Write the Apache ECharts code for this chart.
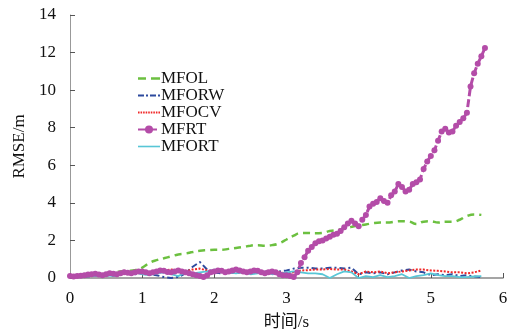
<!DOCTYPE html>
<html>
<head>
<meta charset="utf-8">
<script src="https://cdn.jsdelivr.net/npm/echarts@6/dist/echarts.min.js"></script>
<style>
  html, body { margin: 0; padding: 0; background: #fff; }
  #rmse-chart { width: 523px; height: 336px; }
</style>
</head>
<body>
<div id="rmse-chart"></div>
<script>
// time axis, 0.1 s steps for the low error series
var tCoarse = [];
for (var i = 0; i <= 57; i++) tCoarse.push(+(i * 0.1).toFixed(2));
// time axis, 0.05 s steps for MFRT (markers)
var tFine = [];
for (var j = 0; j <= 115; j++) tFine.push(+(j * 0.05).toFixed(2));

var mfol = [0.1, 0.12, 0.15, 0.2, 0.22, 0.25, 0.3, 0.35, 0.38, 0.42,
    0.55, 0.8, 0.95, 1.05, 1.15, 1.25, 1.3, 1.38, 1.45, 1.48,
    1.5, 1.5, 1.55, 1.6, 1.65, 1.72, 1.75, 1.72, 1.75, 1.85,
    2.05, 2.25, 2.4, 2.4, 2.38, 2.4, 2.5, 2.55, 2.62, 2.72,
    2.8, 2.85, 2.92, 2.95, 2.95, 3.0, 3.02, 3.0, 2.88, 3.0,
    3.02, 2.95, 3.0, 3.0, 3.1, 3.3, 3.38, 3.36];

var mforw = [0.05, 0.05, 0.08, 0.1, 0.12, 0.15, 0.12, 0.2, 0.25, 0.2,
    0.25, 0.2, 0.15, 0.05, 0.0, 0.05, 0.25, 0.6, 0.85, 0.45,
    0.3, 0.25, 0.3, 0.25, 0.3, 0.35, 0.3, 0.35, 0.3, 0.35,
    0.4, 0.5, 0.55, 0.55, 0.5, 0.5, 0.55, 0.55, 0.5, 0.55,
    0.2, 0.3, 0.25, 0.3, 0.2, 0.3, 0.4, 0.45, 0.35, 0.3,
    0.15, 0.2, 0.15, 0.2, 0.1, 0.15, 0.08, 0.05];

var mfocv = [0.1, 0.1, 0.12, 0.15, 0.18, 0.2, 0.22, 0.25, 0.3, 0.3,
    0.35, 0.3, 0.3, 0.4, 0.45, 0.4, 0.35, 0.45, 0.5, 0.4,
    0.35, 0.4, 0.35, 0.3, 0.35, 0.3, 0.35, 0.3, 0.35, 0.3,
    0.25, 0.3, 0.4, 0.42, 0.45, 0.45, 0.48, 0.45, 0.45, 0.35,
    0.2, 0.35, 0.3, 0.35, 0.25, 0.3, 0.35, 0.4, 0.45, 0.45,
    0.4, 0.38, 0.35, 0.3, 0.3, 0.25, 0.3, 0.4];

var mfrt = [0.1, 0.08, 0.1, 0.12, 0.15, 0.18, 0.2, 0.22, 0.18, 0.15,
    0.2, 0.25, 0.22, 0.2, 0.25, 0.3, 0.28, 0.25, 0.3, 0.35,
    0.35, 0.3, 0.25, 0.3, 0.35, 0.4, 0.38, 0.32, 0.3, 0.35,
    0.4, 0.35, 0.3, 0.25, 0.2, 0.15, 0.1, 0.05, 0.15, 0.3,
    0.35, 0.4, 0.38, 0.3, 0.35, 0.4, 0.45, 0.4, 0.35, 0.3,
    0.35, 0.4, 0.38, 0.3, 0.25, 0.3, 0.35, 0.3, 0.2, 0.15,
    0.15, 0.1, 0.05, 0.3, 0.8, 1.1, 1.45, 1.65, 1.85, 1.95,
    2.0, 2.1, 2.2, 2.3, 2.35, 2.5, 2.7, 2.9, 3.05, 2.9,
    2.75, 3.1, 3.35, 3.8, 3.95, 4.05, 4.25, 4.1, 4.0, 4.4,
    4.6, 5.0, 4.85, 4.6, 4.7, 5.0, 5.1, 5.25, 5.8, 6.2,
    6.5, 6.8, 7.3, 7.8, 7.95, 7.75, 7.8, 8.1, 8.3, 8.5,
    8.8, 10.2, 10.9, 11.4, 11.8, 12.25];

var mfort = [0.05, 0.08, 0.1, 0.12, 0.1, 0.15, 0.1, 0.2, 0.25, 0.3,
    0.2, 0.15, 0.25, 0.3, 0.2, 0.1, 0.3, 0.25, 0.3, 0.35,
    0.45, 0.4, 0.3, 0.25, 0.3, 0.2, 0.25, 0.3, 0.2, 0.25,
    0.3, 0.35, 0.3, 0.25, 0.25, 0.2, 0.0, 0.2, 0.35, 0.3,
    0.0, 0.1, 0.05, 0.15, 0.05, 0.1, 0.2, 0.0, 0.1, 0.15,
    0.25, 0.15, 0.1, 0.1, 0.05, 0.05, 0.08, 0.1];

var xTicks = [0, 1, 2, 3, 4, 5, 6];
var yTicks = [0, 2, 4, 6, 8, 10, 12, 14];

function pairs(xs, ys) {
    return ys.map(function (v, k) { return [xs[k], v]; });
}

// legend line icons (22 wide), drawn as small filled segments
var dotIcon = 'path://';
for (var d = 0; d < 9; d++) dotIcon += 'M' + (d * 2.6) + ',0h1.6v2h-1.6z ';
dotIcon += 'M21,0h1v2h-1z';
var icons = {
    MFOL: 'path://M0,0h8v2.6h-8z M13,0h9v2.6h-9z',
    MFORW: 'path://M0,0h6v2.2h-6z M8,0h2v2.2h-2z M12,0h6v2.2h-6z M20,0h2v2.2h-2z',
    MFOCV: dotIcon,
    MFORT: 'path://M0,0h22v1.6h-22z'
};

var serif = 'Liberation Serif';

var option = {
    animation: false,
    backgroundColor: '#fff',
    grid: { left: 70, right: 20, top: 15, bottom: 55 },
    legend: {
        orient: 'vertical',
        left: 132,
        top: 65,
        itemWidth: 22,
        itemHeight: 10,
        itemGap: 0,
        symbolKeepAspect: true,
        textStyle: { fontFamily: serif, fontSize: 17, color: '#111', padding: [0, 0, 0, -4] },
        data: [
            { name: 'MFOL', icon: icons.MFOL },
            { name: 'MFORW', icon: icons.MFORW },
            { name: 'MFOCV', icon: icons.MFOCV },
            { name: 'MFRT' },
            { name: 'MFORT', icon: icons.MFORT }
        ]
    },
    xAxis: {
        type: 'value',
        min: 0,
        max: 6,
        interval: 1,
        name: '时间/s',
        nameLocation: 'middle',
        nameGap: 36,
        nameTextStyle: { fontFamily: serif + ', Noto Sans CJK SC', fontSize: 17, color: '#111' },
        axisLine: { lineStyle: { color: '#888', width: 1.5 } },
        axisTick: { inside: true, length: 5, lineStyle: { color: '#555' } },
        axisLabel: { fontFamily: serif, fontSize: 17, color: '#111', margin: 12,
            formatter: function (v) { return xTicks.indexOf(v) >= 0 ? String(v) : ''; } },
        splitLine: { show: false }
    },
    yAxis: {
        type: 'value',
        min: 0,
        max: 14,
        interval: 2,
        name: 'RMSE/m',
        nameLocation: 'middle',
        nameGap: 40,
        nameTextStyle: { fontFamily: serif, fontSize: 17, color: '#111' },
        axisLine: { show: true, lineStyle: { color: '#999', width: 1 } },
        axisTick: { show: true, inside: true, length: 5, lineStyle: { color: '#555' } },
        axisLabel: { fontFamily: serif, fontSize: 17, color: '#111', margin: 14,
            formatter: function (v) { return yTicks.indexOf(v) >= 0 ? String(v) : ''; } },
        splitLine: { show: false }
    },
    series: [
        {
            name: 'MFOL',
            type: 'line',
            data: pairs(tCoarse, mfol),
            smooth: true,
            showSymbol: false,
            symbol: 'none',
            itemStyle: { color: '#6cc040' },
            lineStyle: { color: '#6cc040', width: 2.5, type: [7, 5] }
        },
        {
            name: 'MFORW',
            type: 'line',
            data: pairs(tCoarse, mforw),
            showSymbol: false,
            symbol: 'none',
            itemStyle: { color: '#2d4a9e' },
            lineStyle: { color: '#2d4a9e', width: 2, type: [6, 3, 2, 3] }
        },
        {
            name: 'MFOCV',
            type: 'line',
            data: pairs(tCoarse, mfocv),
            showSymbol: false,
            symbol: 'none',
            itemStyle: { color: '#f02828' },
            lineStyle: { color: '#f02828', width: 2, type: [2, 1.5] }
        },
        {
            name: 'MFRT',
            type: 'line',
            data: pairs(tFine, mfrt),
            symbol: 'circle',
            symbolSize: 6,
            itemStyle: { color: '#b44ca8' },
            lineStyle: { color: '#b44ca8', width: 3, type: [8, 3] }
        },
        {
            name: 'MFORT',
            type: 'line',
            data: pairs(tCoarse, mfort),
            showSymbol: false,
            symbol: 'none',
            itemStyle: { color: '#58c6d6' },
            lineStyle: { color: '#58c6d6', width: 1.8 }
        }
    ]
};

var rmseChart = echarts.init(document.getElementById('rmse-chart'));
rmseChart.setOption(option);
</script>
</body>
</html>
